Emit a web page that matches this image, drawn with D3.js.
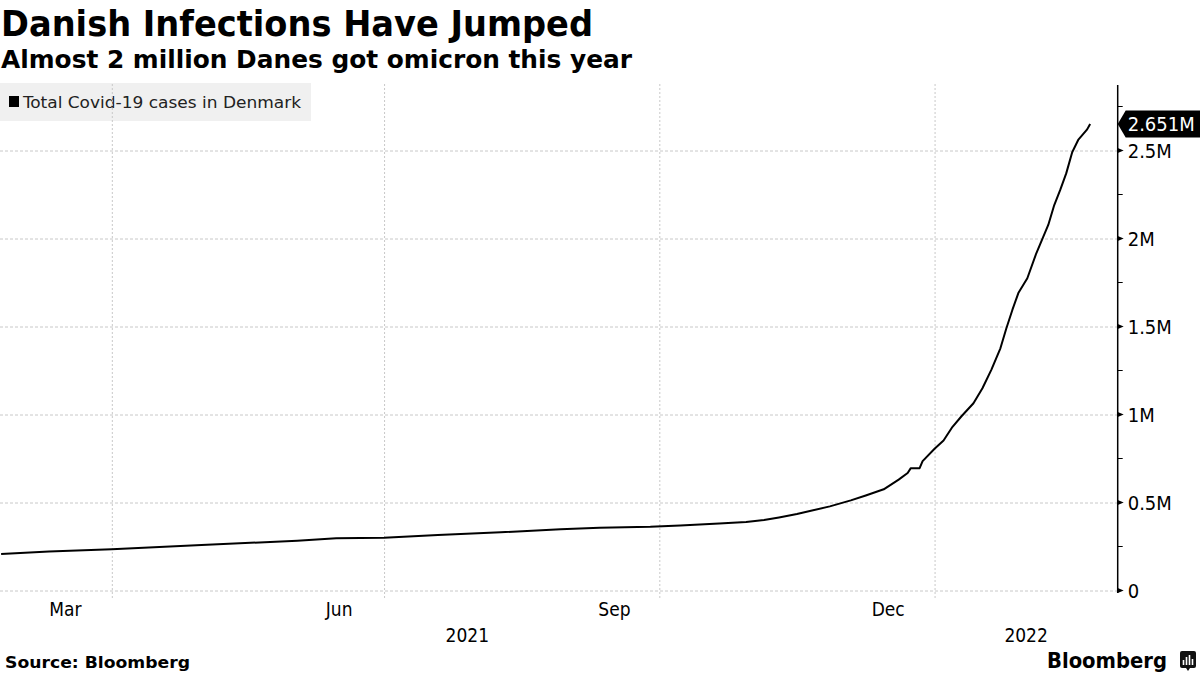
<!DOCTYPE html>
<html><head><meta charset="utf-8">
<script src="https://cdn.jsdelivr.net/npm/d3@7"></script>
<style>body{margin:0;background:#fff} svg{display:block}</style>
</head><body>
<script>
// ---- data ----
const dates = ["2021-02-23","2021-03-11","2021-04-01","2021-05-01","2021-06-02","2021-06-15","2021-07-01","2021-07-19","2021-08-09","2021-08-29","2021-09-11","2021-09-28","2021-10-08","2021-10-21","2021-10-30","2021-11-05","2021-11-10","2021-11-16","2021-11-27","2021-12-04","2021-12-09","2021-12-15","2021-12-20","2021-12-23","2021-12-24","2021-12-27","2021-12-28","2022-01-01","2022-01-04","2022-01-07","2022-01-10","2022-01-14","2022-01-17","2022-01-20","2022-01-23","2022-01-25","2022-01-27","2022-01-29","2022-02-01","2022-02-04","2022-02-08","2022-02-10","2022-02-12","2022-02-14","2022-02-16","2022-02-18","2022-02-21","2022-02-22"];
const totalCases = [0.208,0.221,0.235,0.258,0.283,0.297,0.300,0.315,0.331,0.348,0.357,0.362,0.369,0.381,0.389,0.400,0.415,0.435,0.478,0.512,0.540,0.575,0.630,0.668,0.694,0.695,0.735,0.805,0.852,0.930,0.990,1.064,1.149,1.255,1.376,1.490,1.594,1.690,1.774,1.916,2.077,2.190,2.276,2.370,2.490,2.560,2.620,2.651]; // millions
const yTicks = [0, 0.5, 1, 1.5, 2, 2.5];
const yTickLabels = ["0","0.5M","1M","1.5M","2M","2.5M"];
const yMinorTicks = [0.25, 0.75, 1.25, 1.75, 2.25, 2.75];
const gridDates = ["2021-04-01","2021-07-01","2021-10-01","2022-01-01"];
const monthLabels = ["Mar","Jun","Sep","Dec"];
const monthStarts = ["2021-03-01","2021-06-01","2021-09-01","2021-12-01"];
const yearLabels = ["2021","2022"];
const yearStarts = ["2021-01-01","2022-01-01"];
const lastLabel = "2.651M";
const title = "Danish Infections Have Jumped";
const subtitle = "Almost 2 million Danes got omicron this year";
const legendLabel = "Total Covid-19 cases in Denmark";
const source = "Source: Bloomberg";

// ---- setup ----
const W = 1200, H = 675;
const parse = d3.timeParse("%Y-%m-%d");
const data = dates.map((d, i) => ({date: parse(d), v: totalCases[i]}));
const domStart = new Date(2021, 1, 22, 15), domEnd = new Date(2022, 2, 3, 5);
const plotL = 0, plotR = 1117.7, plotTop = 85, plotBottom = 590.5;
const x = d3.scaleTime().domain([domStart, domEnd]).range([plotL, plotR]);
const y = d3.scaleLinear().domain([0, 2.5]).range([plotBottom, 150.5]);

const svg = d3.select("body").append("svg").attr("width", W).attr("height", H);
const sansC = "'DejaVu Sans Condensed', 'DejaVu Sans', sans-serif";

function fitText(sel, w) {
  sel.attr("textLength", w).attr("lengthAdjust", "spacingAndGlyphs");
}

// titles
svg.append("text").attr("x", 1).attr("y", 36).text(title)
  .attr("font-family", sansC).attr("font-weight", "bold").attr("font-size", 35).attr("fill", "#000")
  .call(fitText, 592);
svg.append("text").attr("x", 1).attr("y", 68).text(subtitle)
  .attr("font-family", sansC).attr("font-weight", "bold").attr("font-size", 24).attr("fill", "#000")
  .call(fitText, 631);

// legend
const lg = svg.append("g");
lg.append("rect").attr("x", 0).attr("y", 83).attr("width", 311).attr("height", 38).attr("fill", "#f0f0f0");
lg.append("rect").attr("x", 9).attr("y", 96).attr("width", 10).attr("height", 11).attr("fill", "#000");
lg.append("text").attr("x", 23).attr("y", 107.5).text(legendLabel)
  .attr("font-family", sansC).attr("font-size", 15.5).attr("fill", "#222")
  .call(fitText, 278);

// gridlines
const gx = d3.axisBottom(x).tickValues(gridDates.map(parse)).tickSize(-(598 - 83)).tickFormat("");
svg.append("g").attr("transform", `translate(0,598)`).call(gx)
  .call(g => g.select(".domain").remove())
  .call(g => g.selectAll("line").attr("stroke", "#c8c8c8").attr("stroke-dasharray", "2,2").attr("stroke-width", 1));
const gy = d3.axisLeft(y).tickValues(yTicks).tickSize(-(plotR - plotL)).tickFormat("");
svg.append("g").attr("transform", `translate(${plotL},0)`).call(gy)
  .call(g => g.select(".domain").remove())
  .call(g => g.selectAll("line").attr("stroke", "#c8c8c8").attr("stroke-dasharray", "3,2").attr("stroke-width", 1));

// line
const line = d3.line().x(d => x(d.date)).y(d => y(d.v)).curve(d3.curveLinear);
svg.append("path").datum(data).attr("d", line).attr("fill", "none")
  .attr("stroke", "#000").attr("stroke-width", 2).attr("stroke-linejoin", "round");

// y axis (right)
const ya = svg.append("g").attr("transform", `translate(${plotR},0)`);
ya.append("line").attr("x1", 0).attr("x2", 0).attr("y1", plotTop).attr("y2", 593).attr("stroke", "#000").attr("stroke-width", 1.5);
ya.selectAll(".minor").data(yMinorTicks).join("line").attr("class", "minor")
  .attr("x1", 0).attr("x2", 5).attr("y1", d => y(d)).attr("y2", d => y(d)).attr("stroke", "#000").attr("stroke-width", 1);
ya.selectAll(".major").data(yTicks).join("path").attr("class", "major")
  .attr("d", d => `M0,${y(d) - 2.5}L6,${y(d)}L0,${y(d) + 2.5}Z`).attr("fill", "#000");
ya.selectAll(".tl").data(yTicks).join("text").attr("class", "tl")
  .attr("x", 10).attr("y", d => y(d)).attr("dy", "0.36em").text((d, i) => yTickLabels[i])
  .attr("font-family", sansC).attr("font-size", 20).attr("fill", "#000");

// last value label
const lastV = totalCases[totalCases.length - 1];
const ly = y(lastV);
ya.append("path").attr("d", `M0,${ly}L8,${ly - 13.5}L83,${ly - 13.5}L83,${ly + 13.5}L8,${ly + 13.5}Z`).attr("fill", "#000");
ya.append("text").attr("x", 10).attr("y", ly).attr("dy", "0.36em").text(lastLabel)
  .attr("font-family", sansC).attr("font-size", 20).attr("fill", "#fff");

// x labels
svg.selectAll(".ml").data(monthLabels).join("text").attr("class", "ml")
  .attr("x", (d, i) => { const s = parse(monthStarts[i]); const e = d3.timeMonth.offset(s, 1); return (x(s) + x(e)) / 2; })
  .attr("y", 616).attr("text-anchor", "middle").text(d => d)
  .attr("font-family", sansC).attr("font-size", 19).attr("fill", "#000");
svg.selectAll(".yl").data(yearLabels).join("text").attr("class", "yl")
  .attr("x", (d, i) => { const s = d3.max([parse(yearStarts[i]), domStart]); const e = d3.min([d3.timeYear.offset(parse(yearStarts[i]), 1), domEnd]); return (x(s) + x(e)) / 2; })
  .attr("y", 642).attr("text-anchor", "middle").text(d => d)
  .attr("font-family", sansC).attr("font-size", 19).attr("fill", "#000");

// footer
svg.append("text").attr("x", 5).attr("y", 668).text(source)
  .attr("font-family", "'DejaVu Sans', sans-serif").attr("font-weight", "bold").attr("font-size", 15.5).attr("fill", "#000")
  .call(fitText, 185);
svg.append("text").attr("x", 1047).attr("y", 668).text("Bloomberg")
  .attr("font-family", "'DejaVu Sans', sans-serif").attr("font-weight", "bold").attr("font-size", 22).attr("fill", "#000")
  .call(fitText, 120);
const logo = svg.append("g").attr("transform", "translate(1180,651)");
logo.append("rect").attr("width", 16).attr("height", 17).attr("rx", 2).attr("fill", "#111");
logo.append("path").attr("d", "M6,17L8,20L10,17Z").attr("fill", "#111");
[[3.5,9],[6.5,6],[9.5,4],[12.5,8]].forEach(([bx, by]) =>
  logo.append("rect").attr("x", bx - 0.8).attr("y", by).attr("width", 1.6).attr("height", 14 - by).attr("fill", "#fff"));
</script>
</body></html>
